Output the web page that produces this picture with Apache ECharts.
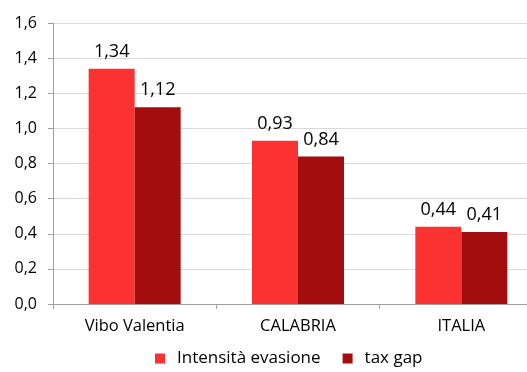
<!DOCTYPE html>
<html><head><meta charset="utf-8">
<script src="https://cdn.jsdelivr.net/npm/echarts@6/dist/echarts.min.js"></script>
<style>html,body{margin:0;padding:0;background:#fff;overflow:hidden;width:527px;height:372px}#c{width:543px;height:372px}</style>
</head><body><div id="c"></div>
<script>
const categories = ["Vibo Valentia", "CALABRIA", "ITALIA"];
const intensita = [1.34, 0.93, 0.44];
const taxGap = [1.12, 0.84, 0.41];
const seriesNames = ["Intensità evasione", "tax gap"];
const fmt = v => v.toFixed(2).replace('.', ',');
const chart = echarts.init(document.getElementById('c'));
const font = "'Open Sans', 'Noto Sans', sans-serif";
chart.setOption({
  animation: false,
  textStyle: {fontFamily: font},
  grid: {left: 53, top: 23, right: 0, bottom: 68, containLabel: false},
  legend: {
    top: 345, left: 150, itemWidth: 10, itemHeight: 10, itemGap: 22,
    icon: 'rect',
    textStyle: {fontSize: 17, color: '#000', fontFamily: font, padding: [0, 0, 0, 7]},
    data: seriesNames
  },
  xAxis: {
    type: 'category', data: categories,
    axisLine: {lineStyle: {color: '#a0a0a0', width: 1}},
    axisTick: {show: true, length: 5, lineStyle: {color: '#a0a0a0'}},
    axisLabel: {fontSize: 16.5, color: '#000', margin: 14, fontFamily: font}
  },
  yAxis: {
    type: 'value', min: 0, max: 1.6, interval: 0.2,
    axisLine: {show: true, lineStyle: {color: '#a0a0a0'}},
    axisTick: {show: true, length: 5, inside: false, lineStyle: {color: '#a0a0a0'}},
    splitLine: {lineStyle: {color: '#d9d9d9'}},
    axisLabel: {fontSize: 16, color: '#000', margin: 16, formatter: v => v.toFixed(1).replace('.', ','), fontFamily: font}
  },
  series: [
    {name: seriesNames[0], type: 'bar', data: intensita, barWidth: 46, barGap: '0%',
     itemStyle: {color: '#fa3232'},
     label: {show: true, position: 'top', distance: 8, fontSize: 18, color: '#000', formatter: p => fmt(p.value), fontFamily: font}},
    {name: seriesNames[1], type: 'bar', data: taxGap, barWidth: 46, barGap: '0%',
     itemStyle: {color: '#a30d0d'},
     label: {show: true, position: 'top', distance: 8, fontSize: 18, color: '#000', formatter: p => fmt(p.value), fontFamily: font}}
  ]
});
</script></body></html>
